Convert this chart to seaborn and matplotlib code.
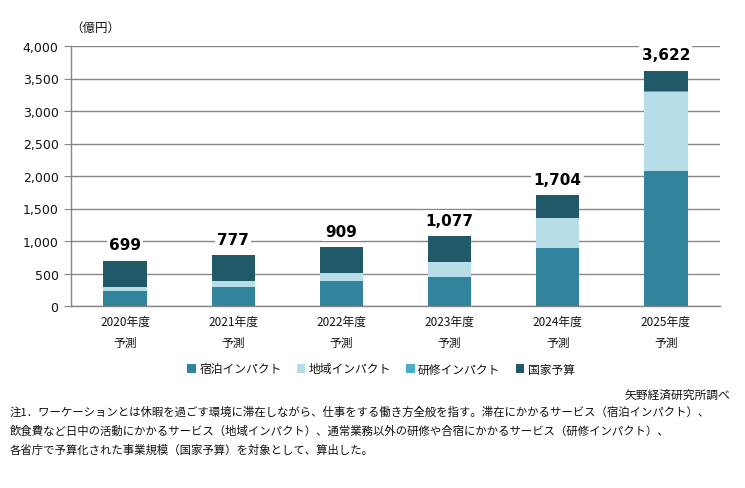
import numpy as np
import pandas as pd
import matplotlib
matplotlib.use("Agg")
import matplotlib.pyplot as plt
import seaborn as sns
from matplotlib.patches import Patch

sns.set_style("white")
plt.rcParams['font.family'] = ['Noto Sans CJK JP', 'DejaVu Sans']
plt.rcParams['text.color'] = '#111111'

# data (億円)
years = ['2020年度\n予測', '2021年度\n予測', '2022年度\n予測',
         '2023年度\n予測', '2024年度\n予測', '2025年度\n予測']
totals = [699, 777, 909, 1077, 1704, 3622]
stay = [235, 297, 385, 451, 892, 2080]        # 宿泊インパクト
region = [57, 88, 123, 231, 457, 1208]        # 地域インパクト
training = [0, 0, 0, 0, 0, 24]                # 研修インパクト
national = [t - s - r - k for t, s, r, k in zip(totals, stay, region, training)]  # 国家予算

series_names = ['宿泊インパクト', '地域インパクト', '研修インパクト', '国家予算']
colors = ['#31849B', '#B7DEE8', '#4BACC6', '#215968']

df = pd.DataFrame({'year': years, 'stay': stay, 'region': region,
                   'training': training, 'national': national})
cum = df[['stay', 'region', 'training', 'national']].cumsum(axis=1)

fig = plt.figure(figsize=(7.45, 4.89), dpi=100)
ax = fig.add_axes([71 / 745, 1 - 307 / 489, 649 / 745, 260 / 489])

# stacked bars: draw cumulative heights from top segment down
for col, color in zip(['national', 'training', 'region', 'stay'], colors[::-1]):
    sns.barplot(x=df['year'], y=cum[col], color=color, saturation=1,
                width=0.4, linewidth=0, ax=ax, zorder=3)

for i, t in enumerate(totals):
    ax.annotate(f'{t:,}', xy=(i, t), xytext=(0, 6), textcoords='offset points',
                ha='center', va='bottom', fontsize=11, fontweight='bold',
                family='DejaVu Sans', color='black', zorder=5,
                bbox=dict(boxstyle='square,pad=0.15', fc='white', ec='none'))

ax.set_ylim(0, 4000)
ax.set_xlim(-0.5, 5.5)
ax.set_yticks(np.arange(0, 4001, 500))
ax.set_yticklabels([f'{v:,}' for v in range(0, 4001, 500)], family='DejaVu Sans')
ax.yaxis.grid(True, color='#878787', linewidth=1, zorder=0)
ax.set_axisbelow(True)
ax.set_xlabel('')
ax.set_ylabel('')

ax.set_xticks(np.arange(-0.5, 6, 1))
ax.set_xticklabels([])
ax.set_xticks(np.arange(6), minor=True)
ax.set_xticklabels(years, minor=True, linespacing=1.9)
ax.tick_params(axis='x', which='minor', length=0, pad=6, labelsize=8.5, labelcolor='#111111')
ax.tick_params(axis='x', which='major', length=5, color='#878787', direction='out')
ax.tick_params(axis='y', length=5, color='#878787', direction='out', labelsize=9,
               labelcolor='#111111', pad=4, left=True)

for side in ['top', 'right']:
    ax.spines[side].set_visible(False)
for side in ['left', 'bottom']:
    ax.spines[side].set_color('#878787')
    ax.spines[side].set_linewidth(1)

fig.text(95 / 745, 1 - 28 / 489, '（億円）', ha='center', va='center', fontsize=9)

handles = [Patch(facecolor=c, edgecolor='none') for c in colors]
fig.legend(handles, series_names, loc='center', bbox_to_anchor=(381 / 745, 1 - 370 / 489),
           ncol=4, frameon=False, fontsize=8.5, handlelength=0.7, handleheight=0.7,
           handletextpad=0.3, columnspacing=1.3)

fig.text(730 / 745, 1 - 395 / 489, '矢野経済研究所調べ', ha='right', va='center', fontsize=8.5)
notes = ['注1．ワーケーションとは休暇を過ごす環境に滞在しながら、仕事をする働き方全般を指す。滞在にかかるサービス（宿泊インパクト）、',
         '飲食費など日中の活動にかかるサービス（地域インパクト）、通常業務以外の研修や合宿にかかるサービス（研修インパクト）、',
         '各省庁で予算化された事業規模（国家予算）を対象として、算出した。']
for k, line in enumerate(notes):
    fig.text(10 / 745, 1 - (412 + 19 * k) / 489, line, ha='left', va='center', fontsize=8.2)

fig.savefig('out.png', dpi=100, facecolor='white')
